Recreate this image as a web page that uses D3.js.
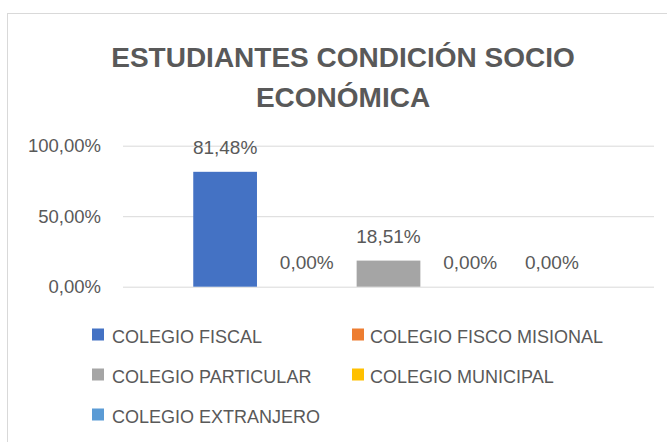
<!DOCTYPE html>
<html>
<head>
<meta charset="utf-8">
<script src="https://cdn.jsdelivr.net/npm/d3@7"></script>
<style>
  body { margin: 0; background: #fff; }
  svg { display: block; font-family: "Liberation Sans", Arial, sans-serif; }
</style>
</head>
<body>
<svg id="svg"></svg>
<script>
// data
const titleLines = ["ESTUDIANTES CONDICIÓN SOCIO", "ECONÓMICA"];
const series = ["COLEGIO FISCAL", "COLEGIO FISCO MISIONAL", "COLEGIO PARTICULAR", "COLEGIO MUNICIPAL", "COLEGIO EXTRANJERO"];
const values = [81.48, 0, 18.51, 0, 0];
const colors = ["#4472C4", "#ED7D31", "#A5A5A5", "#FFC000", "#5B9BD5"];
const yTicks = [0, 50, 100];

const width = 667, height = 442;
const fmt = v => v.toFixed(2).replace(".", ",") + "%";

const svg = d3.select("svg")
  .attr("width", width)
  .attr("height", height);

// chart frame
svg.append("rect")
  .attr("x", 7.5).attr("y", 13.5)
  .attr("width", 700).attr("height", 450)
  .attr("fill", "#fff")
  .attr("stroke", "#d9d9d9");

// title
svg.append("g")
  .selectAll("text")
  .data(titleLines)
  .enter()
  .append("text")
  .attr("x", 343)
  .attr("y", (d, i) => 67 + i * 40)
  .attr("text-anchor", "middle")
  .attr("font-size", 28)
  .attr("font-weight", "bold")
  .attr("fill", "#595959")
  .text(d => d);

const plot = {left: 123, right: 654, top: 145.7, bottom: 286.7};

const y = d3.scaleLinear()
  .domain([0, 100])
  .range([plot.bottom, plot.top]);

// one category, five series clustered inside it
const x0 = d3.scaleBand()
  .domain(["cat"])
  .range([plot.left, plot.right])
  .paddingOuter(0.15);

const x1 = d3.scaleBand()
  .domain(series)
  .range([x0("cat"), x0("cat") + x0.bandwidth()])
  .paddingInner(0.22)
  .paddingOuter(0.11);

// gridlines + y labels
const yAxis = svg.append("g")
  .attr("transform", `translate(${plot.left},0)`)
  .call(d3.axisLeft(y)
    .tickValues(yTicks)
    .tickSize(-(plot.right - plot.left))
    .tickPadding(22)
    .tickFormat(fmt));
yAxis.select(".domain").remove();
yAxis.selectAll(".tick line").attr("stroke", "#d9d9d9");
yAxis.selectAll(".tick text")
  .attr("font-size", 18.5)
  .attr("fill", "#595959")
  .attr("font-family", "Liberation Sans, Arial, sans-serif");

// bars
svg.append("g")
  .selectAll("rect")
  .data(series)
  .enter()
  .append("rect")
  .attr("x", d => x1(d))
  .attr("y", (d, i) => y(values[i]))
  .attr("width", x1.bandwidth())
  .attr("height", (d, i) => y(0) - y(values[i]))
  .attr("fill", (d, i) => colors[i]);

// data labels
svg.append("g")
  .selectAll("text")
  .data(series)
  .enter()
  .append("text")
  .attr("x", d => x1(d) + x1.bandwidth() / 2)
  .attr("y", (d, i) => y(values[i]) - 18)
  .attr("text-anchor", "middle")
  .attr("font-size", 19)
  .attr("fill", "#595959")
  .text((d, i) => fmt(values[i]));

// legend
const legend = svg.append("g")
  .selectAll("g")
  .data(series)
  .enter()
  .append("g")
  .attr("transform", (d, i) => `translate(${i % 2 === 0 ? 92 : 352},${328.5 + Math.floor(i / 2) * 40})`);

legend.append("rect")
  .attr("width", 12)
  .attr("height", 12)
  .attr("fill", (d, i) => colors[i]);

legend.append("text")
  .attr("x", (d, i) => i % 2 === 0 ? 20 : 18)
  .attr("y", 14.5)
  .attr("font-size", 18)
  .attr("fill", "#595959")
  .text(d => d);
</script>
</body>
</html>
